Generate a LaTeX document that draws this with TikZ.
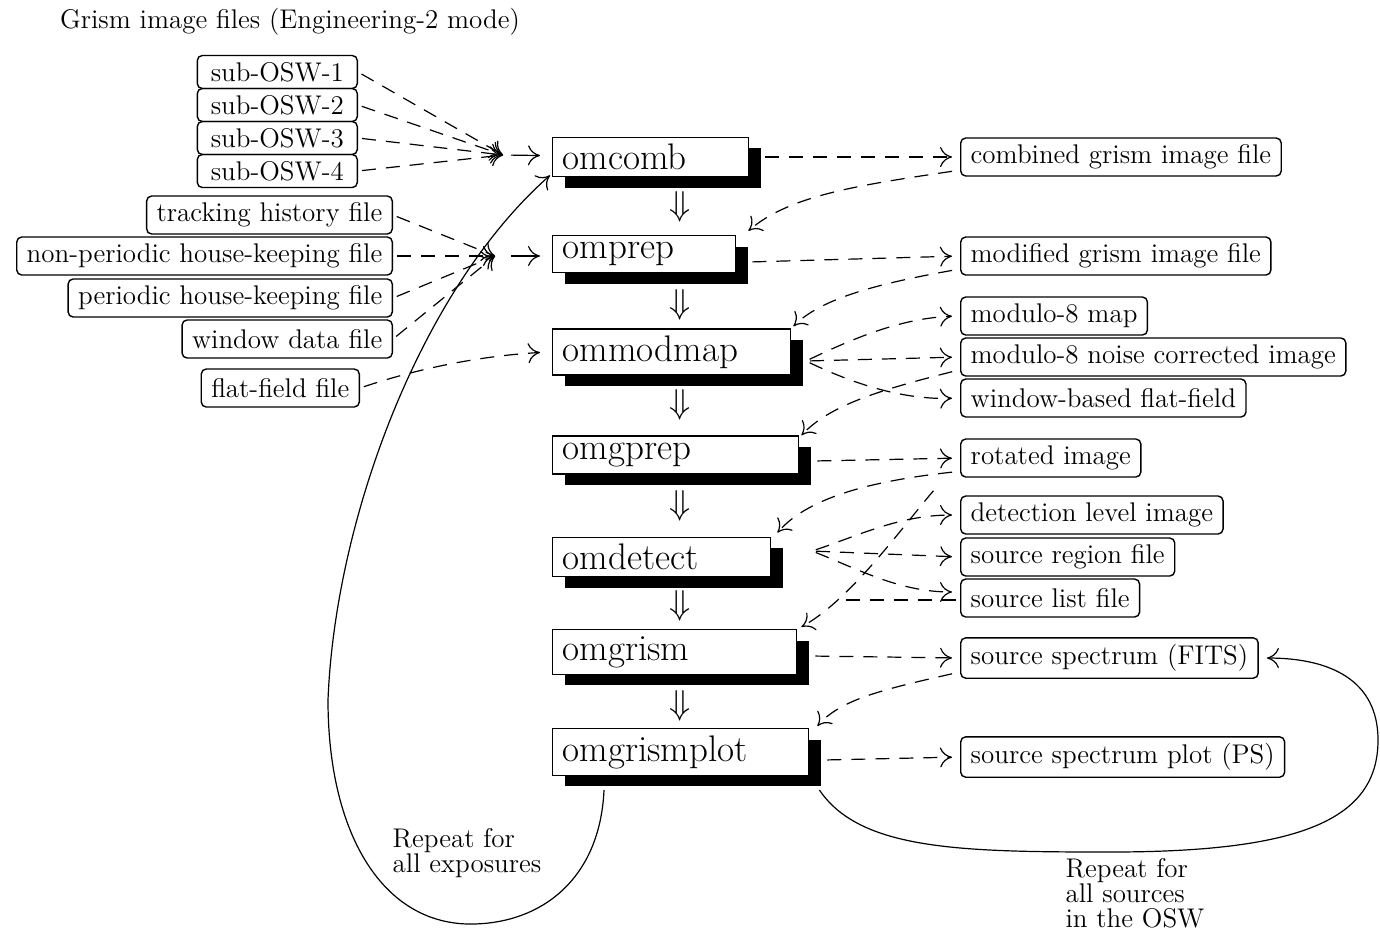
\documentclass[tikz,border=0pt]{standalone}
\usetikzlibrary{arrows.meta,shadows}
\tikzset{
  file/.style={draw, rounded corners=2.5pt, line width=0.7pt, inner xsep=5pt,
    minimum height=19pt, font=\fontsize{13.5}{15}\selectfont},
  proc/.style={draw, fill=white, line width=0.7pt, anchor=west, align=left,
    inner xsep=5pt, font=\fontsize{18.5}{20}\selectfont,
    drop shadow={shadow xshift=6pt, shadow yshift=-5.5pt, fill=black, opacity=1}},
  flow/.style={line width=0.6pt, dash pattern=on 7pt off 5pt,
    shorten <=2pt, shorten >=4pt, -{To[length=6pt,width=10pt]}},
  flowline/.style={line width=0.6pt, dash pattern=on 7pt off 5pt},
  feed/.style={line width=0.6pt, -{To[length=6pt,width=10pt]}},
  note/.style={align=left, font=\fontsize{13.5}{12.5}\selectfont},
}
\begin{document}
\begin{tikzpicture}[x=0.5pt, y=-0.5pt]
  \useasboundingbox (0,0) rectangle (1380,934);
  \node[note] (title) at (290,22) {Grism image files (Engineering-2 mode)};

  % processing chain
  \node[proc, text width=88pt,  minimum height=18.5pt] (omcomb)      at (552,157) {omcomb};
  \node[proc, text width=81.5pt,minimum height=18.5pt] (omprep)      at (552,254) {omprep};
  \node[proc, text width=109pt, minimum height=22pt]   (ommodmap)    at (552,352) {ommodmap};
  \node[proc, text width=113pt, minimum height=19pt]   (omgprep)     at (552,455) {omgprep};
  \node[proc, text width=99pt,  minimum height=19.5pt] (omdetect)    at (552,557) {omdetect};
  \node[proc, text width=112pt, minimum height=20.5pt] (omgrism)     at (552,652) {omgrism};
  \node[proc, text width=118pt, minimum height=22.5pt] (omgrismplot) at (552,752) {omgrismplot};
  \foreach \y [count=\i] in {207,305,405,506,606,706}
    \node[font=\fontsize{17}{19}\selectfont] (dn\i) at (680,\y) {$\Downarrow$};

  % input files
  \foreach \i/\y in {1/72,2/105,3/138,4/171}
    \node[file, anchor=east, minimum width=80pt, minimum height=16.5pt] (osw\i) at (358,\y) {sub-OSW-\i};
  \node[file, anchor=east] (track)  at (393,215) {tracking history file};
  \node[file, anchor=east] (nonper) at (393,256) {non-periodic house-keeping file};
  \node[file, anchor=east] (per)    at (393,298) {periodic house-keeping file};
  \node[file, anchor=east] (win)    at (393,339) {window data file};
  \node[file, anchor=east] (flat)   at (360,388) {flat-field file};

  % output files
  \node[file, anchor=west] (comb)    at (960,157) {combined grism image file};
  \node[file, anchor=west] (modif)   at (960,256) {modified grism image file};
  \node[file, anchor=west] (mod8)    at (960,316) {modulo-8 map};
  \node[file, anchor=west] (noise)   at (960,357) {modulo-8 noise corrected image};
  \node[file, anchor=west] (wflat)   at (960,398) {window-based flat-field};
  \node[file, anchor=west] (rot)     at (960,458) {rotated image};
  \node[file, anchor=west] (detlev)  at (960,515) {detection level image};
  \node[file, anchor=west] (srcreg)  at (960,557) {source region file};
  \node[file, anchor=west] (srclist) at (960,598) {source list file};
  \node[file, anchor=west] (spec)    at (960,658) {source spectrum (FITS)};
  \node[file, anchor=west] (plot)    at (960,757) {source spectrum plot (PS)};

  \node[note] (rep1) at (467,853) {Repeat for\\all exposures};
  \node[note] (rep2) at (1135,893) {Repeat for\\all sources\\in the OSW};

  % inputs
  \coordinate (jcomb) at (503,155);
  \coordinate (jprep) at (495,256);
  \foreach \i in {1,...,4}
    \draw[flow, shorten >=0pt] (osw\i.east) -- (jcomb);
  \foreach \n in {track,nonper,per,win}
    \draw[flow, shorten >=0pt] (\n.east) -- (jprep);
  \draw[feed, shorten <=4pt, shorten >=6pt] (jcomb) -- (omcomb);
  \draw[feed, shorten <=8pt, shorten >=6pt] (jprep) -- (omprep.west |- jprep);
  \draw[flow] (flat.east) .. controls (420,368) and (480,356) .. ([xshift=-2pt]ommodmap.west);

  % outputs and feedback
  \draw[flow] ([xshift=6pt]omcomb.east) -- (comb.west);
  \draw[flow, shorten >=0pt] ([shift={(-2pt,3pt)}]comb.south west)
    .. controls (860,185) and (790,195) .. ([xshift=6pt,yshift=2pt]omprep.north east);
  \draw[flow] ([xshift=6pt,yshift=-4pt]omprep.east) -- (modif.west);
  \draw[flow, shorten >=0pt] ([shift={(-2pt,3pt)}]modif.south west)
    .. controls (870,285) and (820,300) .. ([xshift=1pt,yshift=1pt]ommodmap.north east);
  \coordinate (fmod) at (806,361);
  \draw[flow] (fmod) .. controls (850,340) and (900,318) .. (mod8.west);
  \draw[flow] (fmod) -- (noise.west);
  \draw[flow] (fmod) .. controls (850,382) and (900,400) .. (wflat.west);
  \draw[flow, shorten >=0pt] ([shift={(-2pt,3pt)}]noise.south west)
    .. controls (880,390) and (830,405) .. ([xshift=1pt]omgprep.north east);
  \draw[flow] ([xshift=7pt,yshift=-3pt]omgprep.east) -- (rot.west);
  \draw[flow, shorten >=0pt] ([shift={(-2pt,3pt)}]rot.south west)
    .. controls (880,480) and (810,495) .. ([xshift=3pt,yshift=2pt]omdetect.north east);
  \draw[flow, shorten >=0pt] ([shift={(-12pt,-5pt)}]rot.south west)
    .. controls (900,530) and (850,600) .. ([xshift=2pt,yshift=1pt]omgrism.north east);
  \coordinate (jlist) at (845,600);
  \draw[flowline, shorten <=2pt] ([yshift=-1pt]srclist.west) -- (jlist);
  \coordinate (fdet) at (812,551);
  \draw[flow] (fdet) .. controls (860,535) and (900,515) .. (detlev.west);
  \draw[flow] (fdet) -- (srcreg.west);
  \draw[flow] (fdet) .. controls (860,570) and (900,592) .. ([yshift=3pt]srclist.west);
  \draw[flow] ([xshift=7pt,yshift=-2pt]omgrism.east) -- (spec.west);
  \draw[flow, shorten >=0pt] ([shift={(-2pt,3pt)}]spec.south west)
    .. controls (880,690) and (840,700) .. ([xshift=4pt,yshift=1pt]omgrismplot.north east);
  \draw[flow] ([xshift=7pt,yshift=-4pt]omgrismplot.east) -- (plot.west);

  % loops
  \draw[feed] ([xshift=26pt,yshift=-7pt]omgrismplot.south west)
    .. controls (600,880) and (540,925) .. (468,924)
    .. controls (380,922) and (328,830) .. (328,700)
    .. controls (335,520) and (420,290) .. ([xshift=-1pt,yshift=1pt]omcomb.south west);
  \draw[feed] ([xshift=5pt,yshift=-7pt]omgrismplot.south east)
    .. controls (860,850) and (960,852) .. (1110,852)
    .. controls (1300,852) and (1378,820) .. (1378,740)
    .. controls (1378,680) and (1330,658) .. ([xshift=4pt]spec.east);
\end{tikzpicture}
\end{document}
